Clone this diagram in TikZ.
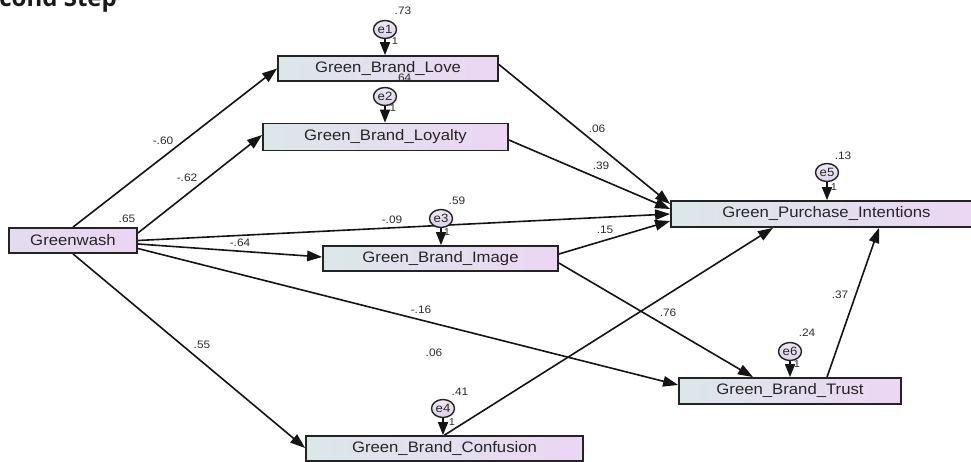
\documentclass[tikz,border=0pt]{standalone}
\usepackage{fontspec}
\setmainfont{Liberation Sans}
\newfontfamily\boxfont[FakeStretch=1.1]{Liberation Sans}
\newfontfamily\titlefont{Open Sans}
\usetikzlibrary{arrows.meta,shapes.geometric}
\pgfdeclarelayer{paper}
\pgfdeclarelayer{bg}
\pgfsetlayers{paper,bg,main}
\definecolor{boxL}{RGB}{220,231,233}
\definecolor{boxR}{RGB}{236,214,244}
\definecolor{gwL}{RGB}{228,220,238}
\definecolor{gwR}{RGB}{234,212,243}
\definecolor{ellT}{RGB}{238,230,244}
\definecolor{ellB}{RGB}{222,210,236}
\definecolor{edge}{RGB}{35,35,35}
\definecolor{labc}{RGB}{45,45,45}
\begin{document}
\begin{tikzpicture}[x=1pt,y=-1pt,
  box/.style={draw=edge, line width=1.8pt, left color=boxL, right color=boxR,
    inner sep=0pt, font=\boxfont\fontsize{15.2}{16}\selectfont, text=black!85},
  gwbox/.style={box, left color=gwL, right color=gwR},
  ell/.style={ellipse, draw=edge, line width=1.4pt, minimum width=23pt,
    minimum height=18pt, inner sep=0pt, top color=ellT, bottom color=ellB,
    font=\boxfont\fontsize{12}{12}\selectfont, text=black!85},
  lab/.style={inner sep=0pt, font=\boxfont\fontsize{10.8}{11}\selectfont, text=labc},
  onelab/.style={inner sep=0pt, font=\boxfont\fontsize{10}{10}\selectfont, text=labc},
  arr/.style={-{Triangle[length=15pt,width=10.5pt]}, line width=1.6pt, draw=black!92},
  earr/.style={-{Triangle[length=13pt,width=10pt]}, line width=1.6pt, draw=black!92}
]
\useasboundingbox (0,0) rectangle (971,462);
\clip (0,0) rectangle (971,462);
\begin{pgfonlayer}{paper}
\fill[white] (0,0) rectangle (971,462);
\end{pgfonlayer}

% title (cut off at the top)
\node[anchor=base east, inner sep=0pt, font=\titlefont\bfseries\fontsize{24}{26}\selectfont, text=black!90] (title) at (117,7) {Second Step};

% observed variables
\node[box, minimum width=220pt, minimum height=25pt] (love) at (388,68.5) {Green\_Brand\_Love};
\node[box, minimum width=245pt, minimum height=27pt] (loyal) at (385.5,137) {Green\_Brand\_Loyalty};
\node[gwbox, minimum width=128pt, minimum height=25pt] (gw) at (73,240.5) {Greenwash};
\node[box, minimum width=235pt, minimum height=25pt] (img) at (440.5,258.5) {Green\_Brand\_Image};
\node[box, minimum width=311pt, minimum height=26pt] (gpi) at (826.5,214) {Green\_Purchase\_Intentions};
\node[box, minimum width=222pt, minimum height=26pt] (trust) at (790,391) {Green\_Brand\_Trust};
\node[box, minimum width=277pt, minimum height=25pt] (conf) at (444.5,448.5) {Green\_Brand\_Confusion};

% error terms
\node[ell] (e1) at (385,29.5) {e1};
\node[ell] (e2) at (385,96.5) {e2};
\node[ell] (e3) at (441,218.5) {e3};
\node[ell] (e4) at (443,408.5) {e4};
\node[ell] (e5) at (827,172.5) {e5};
\node[ell] (e6) at (790,351.5) {e6};

\begin{pgfonlayer}{bg}
\draw[earr] (e1.south) -- (e1.south |- love.north);
\draw[earr] (e2.south) -- (e2.south |- loyal.north);
\draw[earr] (e3.south) -- (e3.south |- img.north);
\draw[earr] (e4.south) -- (e4.south |- conf.north);
\draw[earr] (e5.south) -- (e5.south |- gpi.north);
\draw[earr] (e6.south) -- (e6.south |- trust.north);

\draw[arr] (gw.north) -- (love.west);
\draw[arr] ([yshift=7.5pt]gw.east) -- ([yshift=2pt]loyal.west);
\draw[arr] (gw.east) -- (gpi.west);
\draw[arr] ([yshift=-3.5pt]gw.east) -- ([yshift=1.5pt]img.west);
\draw[arr] ([yshift=-8pt]gw.east) -- ([yshift=6pt]trust.west);
\draw[arr] (gw.south) -- ([yshift=0.5pt]conf.west);
\draw[arr] ([yshift=4pt]love.east) -- ([yshift=10pt]gpi.west);
\draw[arr] ([yshift=-3pt]loyal.east) -- ([yshift=5pt]gpi.west);
\draw[arr] ([yshift=4.5pt]img.east) -- ([yshift=-7pt]gpi.west);
\draw[arr] ([yshift=-4.5pt]img.east) -- ([xshift=-37pt]trust.north);
\draw[arr] (conf.north) -- ([xshift=-53.5pt]gpi.south);
\draw[arr] ([xshift=37pt]trust.north) -- ([xshift=52.5pt]gpi.south);
\end{pgfonlayer}

% variances / R^2
\node[lab] (v1) at (403,11) {.73};
\node[lab] (v2) at (403,78) {.64};
\node[lab] (v3) at (457,201) {.59};
\node[lab] (v4) at (460,392) {.41};
\node[lab] (v5) at (843,156) {.13};
\node[lab] (v6) at (807,333) {.24};
\node[lab] (vgw) at (127,219) {.65};

% fixed loadings
\node[onelab] (o1) at (395,41) {1};
\node[onelab] (o2) at (393,108) {1};
\node[onelab] (o3) at (447,232) {1};
\node[onelab] (o4) at (452,422) {1};
\node[onelab] (o5) at (834,187) {1};
\node[onelab] (o6) at (797,364) {1};

% path coefficients
\node[lab] (p1) at (163,141) {-.60};
\node[lab] (p2) at (187,178) {-.62};
\node[lab] (p3) at (392,220) {-.09};
\node[lab] (p4) at (240,243) {-.64};
\node[lab] (p5) at (421,310) {-.16};
\node[lab] (p6) at (202,345) {.55};
\node[lab] (p7) at (597,129) {.06};
\node[lab] (p8) at (601,166) {.39};
\node[lab] (p9) at (605,230) {.15};
\node[lab] (p10) at (668,313) {.76};
\node[lab] (p11) at (434,353) {.06};
\node[lab] (p12) at (840,295) {.37};
\end{tikzpicture}
\end{document}
